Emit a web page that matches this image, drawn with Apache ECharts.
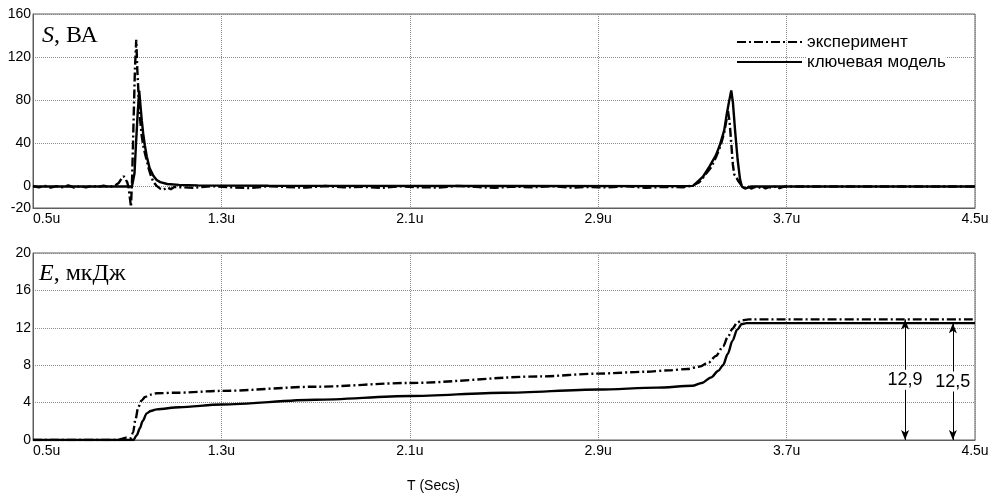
<!DOCTYPE html>
<html>
<head>
<meta charset="utf-8">
<script src="https://cdn.jsdelivr.net/npm/echarts@6/dist/echarts.min.js"></script>
<style>
  html, body { margin: 0; padding: 0; background: #fff; }
  #chart { width: 995px; height: 495px; }
</style>
</head>
<body>
<div id="chart"></div>
<script>
// Time axis (microseconds) tick values and labels
const xTickValues = [0.5, 1.3, 2.1, 2.9, 3.7, 4.5];
const xTickLabels = ['0.5u', '1.3u', '2.1u', '2.9u', '3.7u', '4.5u'];
const sTickValues = [-20, 0, 40, 80, 120, 160];
const eTickValues = [0, 4, 8, 12, 16, 20];

const seriesNames = ['эксперимент', 'ключевая модель'];

// Power S, VA — measured
const sExpT = [0.50, 0.525, 0.55, 0.575, 0.60, 0.625, 0.65, 0.675, 0.70, 0.725, 0.75, 0.775, 0.80, 0.825, 0.85, 0.865,
  0.875, 0.885, 0.893, 0.90, 0.906, 0.911, 0.916, 0.921, 0.927, 0.933, 0.9385, 0.943, 0.949, 0.955, 0.961, 0.968,
  0.975, 0.983, 0.992, 1.002, 1.012, 1.025, 1.04, 1.055, 1.07, 1.085, 1.10,
  1.18, 1.26, 1.34, 1.42, 1.50, 1.58, 1.66, 1.74, 1.82, 1.90, 1.98, 2.06, 2.14, 2.22, 2.30, 2.38, 2.46, 2.54,
  2.62, 2.70, 2.78, 2.86, 2.94, 3.02, 3.10, 3.18, 3.26,
  3.30, 3.33, 3.355, 3.38, 3.40, 3.42, 3.435, 3.445, 3.451, 3.458, 3.465, 3.472, 3.478, 3.485, 3.495, 3.505,
  3.52, 3.535, 3.55, 3.565, 3.58, 3.595, 3.61, 3.625, 3.64, 3.655, 3.67, 3.685, 3.70, 4.50];
const sExpV = [0.4, -0.8, 0.6, -1.1, 0.3, -0.7, 0.9, -1.2, 0.2, -0.9, 0.5, -0.5, 0.8, -0.6, 1.2, 3.5,
  7, 9.5, 8, 4, -1, -10, -19, 8, 60, 110, 136, 108, 82, 62, 48, 38,
  31, 24, 16, 9, 4, 0.5, -2, -3, -1, -2.5, -0.5,
  -1.2, 0.3, -0.8, -1.5, 0.2, -0.6, -1.1, 0.4, -0.9, -0.3, -1.4, 0.1, -0.7, -1.0, 0.5, -0.4, -1.3, -0.2,
  -0.8, 0.3, -1.1, -0.5, -0.9, 0.2, -1.2, -0.4, -0.7,
  0.8, 4, 11, 18, 27, 38, 50, 62, 70, 60, 40, 20, 11, 9, 5, 2,
  -1.5, 0.4, -2, -0.5, -1.5, 0.3, -1.8, -0.6, -1.2, 0.2, -1.6, -0.4, 0, 0];

// Power S, VA — switch model
const sModT = [0.50, 0.92, 0.926, 0.931, 0.937, 0.944, 0.951, 0.956, 0.962, 0.968, 0.975, 0.983, 0.995, 1.011,
  1.025, 1.04, 1.07, 1.12, 1.20, 1.50, 2.50, 3.25, 3.303, 3.345, 3.374, 3.40, 3.416, 3.435, 3.445, 3.455,
  3.465, 3.472, 3.482, 3.492, 3.502, 3.51, 3.523, 3.536, 3.55, 4.50];
const sModV = [0, 0, 0.5, 12, 38, 66, 89, 76, 61, 49, 38, 28, 17, 10,
  6, 4, 2.3, 1.5, 1, 0.6, 0.4, 0.3, 0.5, 9, 19, 29, 38, 52, 66, 78,
  89, 78, 50, 25, 7, 0, -2, -1, 0, 0];

// Energy E, µJ — measured
const eExpT = [0.50, 0.86, 0.88, 0.895, 0.908, 0.915, 0.925, 0.935, 0.947, 0.96, 0.976, 1.0, 1.025, 1.1, 1.3,
  1.7, 2.1, 2.65, 2.9, 3.1, 3.2, 3.28, 3.33, 3.37, 3.40, 3.43, 3.45, 3.47, 3.49, 3.51, 3.54, 4.50];
const eExpV = [0, 0, 0.15, 0.25, 0.2, 0.2, 0.8, 2.2, 3.5, 4.2, 4.6, 4.85, 5.0, 5.05, 5.25,
  5.7, 6.1, 6.8, 7.1, 7.3, 7.45, 7.6, 7.85, 8.3, 9.0, 10.0, 11.0, 11.9, 12.55, 12.8, 12.9, 12.9];

// Energy E, µJ — switch model
const eModT = [0.50, 0.926, 0.94, 0.954, 0.965, 0.983, 1.0, 1.025, 1.12, 1.3, 1.7, 2.1, 2.5, 2.9, 3.15,
  3.3, 3.34, 3.38, 3.41, 3.43, 3.45, 3.47, 3.49, 3.51, 3.53, 4.50];
const eModV = [0, 0, 0.5, 1.25, 2.0, 2.85, 3.1, 3.28, 3.5, 3.8, 4.3, 4.7, 5.05, 5.4, 5.6,
  5.8, 6.1, 6.7, 7.4, 8.0, 9.2, 10.6, 11.8, 12.4, 12.5, 12.5];

// Final energy markers (time position, value)
const markTimes = [4.203, 4.406];
const markValues = [12.9, 12.5];

const zip = (t, v) => t.map((x, i) => [x, v[i]]);
const comma = v => String(v).replace('.', ',');

const frameColor = '#5f5f5f';
const gridColor = '#8c8c8c';
const dashDot = [9, 3, 2, 3];

function xAxis(gridIndex) {
  return {
    type: 'value', gridIndex, min: 0.5, max: 4.5, interval: 0.8,
    axisLine: { show: true, onZero: false, lineStyle: { color: frameColor, width: 1 } },
    axisTick: { show: false },
    splitLine: { show: true, lineStyle: { color: gridColor, type: [1, 1], width: 1 } },
    axisLabel: {
      color: '#000', fontFamily: 'Liberation Sans', fontSize: 14, margin: 4,
      alignMinLabel: 'left',
      formatter: v => {
        const i = xTickValues.findIndex(t => Math.abs(t - v) < 1e-6);
        return i >= 0 ? xTickLabels[i] : '';
      }
    }
  };
}

// Step between ticks; grid lines are drawn only on labelled ticks
function yAxis(gridIndex, min, max, step, ticks, lineColors) {
  return {
    type: 'value', gridIndex, min, max, interval: step,
    axisLine: { show: true, lineStyle: { color: frameColor, width: 1 } },
    axisTick: { show: false },
    splitLine: { show: true, lineStyle: { color: lineColors, type: [1, 1], width: 1 } },
    axisLabel: {
      color: '#000', fontFamily: 'Liberation Sans', fontSize: 14, margin: 2,
      formatter: v => (ticks.some(t => Math.abs(t - v) < 1e-6) ? String(v) : '')
    }
  };
}

const chart = echarts.init(document.getElementById('chart'), null, { renderer: 'canvas' });

const expLine = { color: '#000', width: 2.4, type: dashDot };
const modLine = { color: '#000', width: 2.4, type: 'solid' };

chart.setOption({
  animation: false,
  backgroundColor: '#fff',
  grid: [
    { left: 33, top: 14, width: 942, height: 194, show: true, borderColor: frameColor, borderWidth: 1, backgroundColor: 'transparent' },
    { left: 33, top: 253, width: 942, height: 187, show: true, borderColor: frameColor, borderWidth: 1, backgroundColor: 'transparent' }
  ],
  xAxis: [xAxis(0), xAxis(1)],
  yAxis: [
    yAxis(0, -20, 160, 20, sTickValues, ['rgba(0,0,0,0)', gridColor]),
    yAxis(1, 0, 20, 4, eTickValues, [gridColor])
  ],
  legend: {
    data: seriesNames,
    orient: 'vertical', left: 736, top: 33, padding: 0,
    itemWidth: 65, itemHeight: 14, itemGap: 2,
    itemStyle: { opacity: 0 },
    textStyle: { color: '#000', fontFamily: 'Liberation Sans', fontSize: 17, lineHeight: 18, backgroundColor: '#fff' }
  },
  graphic: [
    {
      type: 'text', left: 42, top: 24, z: 100,
      style: {
        text: '{i|S}{n|, ВА}',
        rich: {
          i: { fontFamily: 'Liberation Serif', fontStyle: 'italic', fontSize: 24, fill: '#000' },
          n: { fontFamily: 'Liberation Serif', fontSize: 24, fill: '#000' }
        }
      }
    },
    {
      type: 'text', left: 39, top: 262, z: 100,
      style: {
        text: '{i|E}{n|, мкДж}',
        rich: {
          i: { fontFamily: 'Liberation Serif', fontStyle: 'italic', fontSize: 24, fill: '#000' },
          n: { fontFamily: 'Liberation Serif', fontSize: 24, fill: '#000' }
        }
      }
    },
    {
      type: 'text', left: 407, top: 479,
      style: { text: 'T (Secs)', fontFamily: 'Liberation Sans', fontSize: 14, fill: '#000' }
    }
  ],
  series: [
    {
      name: seriesNames[0], type: 'line', xAxisIndex: 0, yAxisIndex: 0,
      data: zip(sExpT, sExpV), symbol: 'none', lineStyle: expLine, itemStyle: { color: '#000' }, z: 3
    },
    {
      name: seriesNames[1], type: 'line', xAxisIndex: 0, yAxisIndex: 0,
      data: zip(sModT, sModV), symbol: 'none', lineStyle: modLine, itemStyle: { color: '#000' }, z: 4
    },
    {
      name: seriesNames[0], type: 'line', xAxisIndex: 1, yAxisIndex: 1,
      data: zip(eExpT, eExpV), symbol: 'none', smooth: 0.3, smoothMonotone: 'x',
      lineStyle: expLine, itemStyle: { color: '#000' }, z: 3
    },
    {
      name: seriesNames[1], type: 'line', xAxisIndex: 1, yAxisIndex: 1,
      data: zip(eModT, eModV), symbol: 'none', smooth: 0.3, smoothMonotone: 'x',
      lineStyle: modLine, itemStyle: { color: '#000' }, z: 4,
      markLine: {
        silent: true, symbol: ['arrow', 'arrow'], symbolSize: [6, 10],
        lineStyle: { color: '#000', width: 1, type: 'solid' },
        label: { show: false },
        data: markTimes.map((t, i) => [{ coord: [t, 0] }, { coord: [t, markValues[i]] }])
      },
      markPoint: {
        silent: true, symbol: 'rect', symbolSize: 1, itemStyle: { color: 'transparent' },
        label: {
          show: true, position: 'inside', color: '#000', fontFamily: 'Liberation Sans', fontSize: 18,
          backgroundColor: '#fff', padding: [1, 1],
          formatter: p => comma(p.data.shown)
        },
        data: markTimes.map((t, i) => ({ coord: [t, markValues[i] / 2], shown: markValues[i] }))
      }
    }
  ]
});
</script>
</body>
</html>
